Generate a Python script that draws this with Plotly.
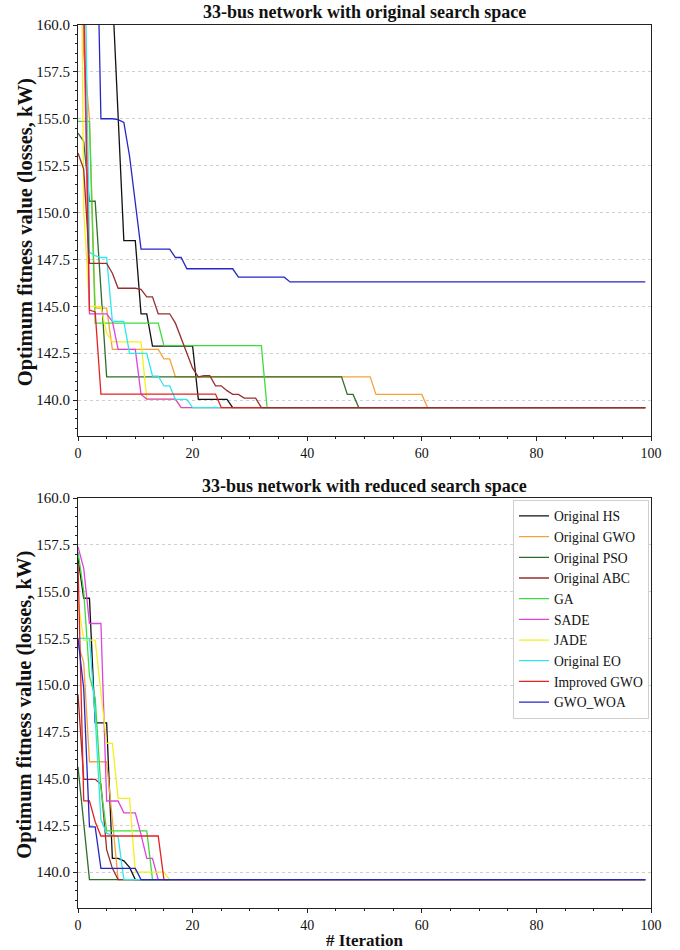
import plotly.graph_objects as go

N_ITER = 100
FINAL = 139.6
FINAL_WOA_TOP = 146.3

NAMES = ["Original HS", "Original GWO", "Original PSO", "Original ABC", "GA",
         "SADE", "JADE", "Original EO", "Improved GWO", "GWO_WOA"]
COLORS = ["#111111", "#f5a23a", "#2f6e2a", "#9a2e2e", "#3ddc3d",
          "#dc45dc", "#f2f020", "#2ee6f0", "#e52222", "#2626c8"]

# ---------- 33-bus network with original search space ----------
HS_TOP = [195, 190, 184, 178, 172, 168, 161.8, 155.2, 148.5, 148.5, 148.5, 144.6, 144.6,
          142.88, 142.88, 142.88, 142.88, 142.88, 142.88, 142.88, 142.88,
          140.04, 140.04, 140.04, 140.04, 140.04, 140.04]
GWO_TOP = ([172, 158.5, 155.0, 144.9, 144.9, 144.9] + [142.7] * 9 + [142.2] * 2
           + [141.24] * 35 + [140.3] * 9)
PSO_TOP = [154.24, 153.8, 150.6, 150.6, 145.9] + [141.24] * 42 + [140.3, 140.3]
ABC_TOP = [153.17, 152.3, 147.29, 147.29, 147.29, 147.29, 146.76, 145.96, 145.96, 145.96,
           145.96, 145.9, 145.5, 145.5, 144.6, 144.6, 144.6, 144.1, 143.3, 142.5,
           141.7, 141.24, 141.3, 141.3, 140.76, 140.76, 140.5, 140.3, 140.3, 140.1,
           140.1, 140.1]
GA_TOP = [154.86, 154.86, 154.86] + [144.1] * 12 + [142.9] * 18
SADE_TOP = [172, 160.5, 144.6, 144.6, 144.6, 144.6, 144.2, 142.7, 142.7, 142.7, 142.7,
            140.3] + [140.05] * 6
JADE_TOP = [185, 150.1, 145.0, 144.98, 144.98, 143.56, 143.1, 143.1, 143.1, 143.1, 143.1,
            143.1] + [140.05] * 6
EO_TOP = [180, 168, 147.88, 147.7, 147.6, 147.6, 144.2, 144.2, 144.2, 142.49, 142.49,
          142.49, 142.49, 141.28, 141.28, 140.75, 140.75, 140.04, 140.04, 140.04]
IGWO_TOP = [175, 162, 144.8, 144.7] + [140.32] * 21
WOA_TOP = ([185, 180, 175, 170, 155.0, 155.0, 155.0, 154.95, 154.8, 153.0, 150.5]
           + [148.05] * 6 + [147.6] * 2 + [147.0] * 9 + [146.55] * 9)

# ---------- 33-bus network with reduced search space ----------
HS_BOT = [156.8, 154.64, 154.64, 147.98, 147.98, 147.98, 140.73, 140.73, 140.6, 140.25]
GWO_BOT = [152.2, 151.2, 145.9, 145.9, 145.9, 145.9, 142.8]
PSO_BOT = [145.63, 142.6]
ABC_BOT = [149.5, 144.96, 144.96, 144.96, 144.7, 141.2, 140.2]
GA_BOT = [157.13, 155.0, 150.5, 149.3, 144.5] + [142.2] * 8
SADE_BOT = [157.4, 156.24, 153.29, 153.29, 153.29, 143.8, 143.8, 143.8, 143.17, 143.17,
            143.17, 142.0, 140.73, 140.73]
JADE_BOT = [154.5, 152.4, 152.4, 152.4, 149.6, 146.88, 146.88, 143.94, 143.94, 143.94] + [140.0] * 6
EO_BOT = [152.5, 152.5, 152.5, 148.3, 142.8, 142.07, 142.0, 141.9]
IGWO_BOT = [156.5, 143.81, 143.81, 142.69] + [141.93] * 11
WOA_BOT = [152.5, 149.8, 142.42, 142.42] + [140.2] * 7

TOP_SERIES = [HS_TOP, GWO_TOP, PSO_TOP, ABC_TOP, GA_TOP, SADE_TOP, JADE_TOP, EO_TOP, IGWO_TOP, WOA_TOP]
TOP_FINALS = [FINAL] * 9 + [FINAL_WOA_TOP]
BOT_SERIES = [HS_BOT, GWO_BOT, PSO_BOT, ABC_BOT, GA_BOT, SADE_BOT, JADE_BOT, EO_BOT, IGWO_BOT, WOA_BOT]

ITER = list(range(N_ITER))


def full(vals, final):
    return vals + [final] * (N_ITER - len(vals))


FONT = "Liberation Serif, Times New Roman, serif"
fig = go.Figure()

# drawing order for the upper panel (legend order kept via legendrank)
top_order = [0, 1, 2, 4, 6, 5, 7, 8, 9, 3]
for i in top_order:
    fig.add_trace(go.Scatter(x=ITER, y=full(TOP_SERIES[i], TOP_FINALS[i]), mode="lines",
                             name=NAMES[i], line=dict(color=COLORS[i], width=1.3),
                             xaxis="x", yaxis="y", showlegend=False))
for i in range(10):
    fig.add_trace(go.Scatter(x=ITER, y=full(BOT_SERIES[i], FINAL), mode="lines",
                             name=NAMES[i], line=dict(color=COLORS[i], width=1.3),
                             xaxis="x2", yaxis="y2", showlegend=True, legendrank=i + 1))

xcommon = dict(range=[0, 100], tick0=0, dtick=20, ticks="outside", ticklen=4, tickwidth=1,
               tickcolor="#222", showline=True, mirror=True, linecolor="#222", linewidth=1,
               showgrid=False, zeroline=False,
               tickfont=dict(family=FONT, size=14, color="#111"),
               minor=dict(dtick=5, ticks="outside", ticklen=2, tickcolor="#222", showgrid=False))
ycommon = dict(range=[138.08, 160.0], tick0=140, dtick=2.5, tickformat=".1f", ticks="outside",
               ticklen=4, tickwidth=1, tickcolor="#222", showline=True, mirror=True,
               linecolor="#222", linewidth=1, showgrid=True, gridcolor="#cfcfcf",
               griddash="dot", gridwidth=1, zeroline=False,
               tickfont=dict(family=FONT, size=15, color="#111"),
               minor=dict(tick0=140, dtick=0.5, ticks="outside", ticklen=2, tickcolor="#222",
                          showgrid=False))

TOP_DOM = [0.5345, 1.0]
BOT_DOM = [0.0, 0.4643]

fig.update_layout(
    width=680, height=950, autosize=False,
    margin=dict(l=78, r=29, t=25, b=42),
    paper_bgcolor="white", plot_bgcolor="white",
    xaxis=dict(domain=[0, 1], anchor="y", **xcommon),
    yaxis=dict(domain=TOP_DOM, anchor="x", **ycommon),
    xaxis2=dict(domain=[0, 1], anchor="y2", **xcommon),
    yaxis2=dict(domain=BOT_DOM, anchor="x2", **ycommon),
    legend=dict(x=0.9965, y=0.4625, xanchor="right", yanchor="top",
                bgcolor="white", bordercolor="#cfcfcf", borderwidth=1,
                font=dict(family=FONT, size=13.6, color="#111"),
                itemwidth=30, tracegroupgap=0),
    showlegend=True,
)

ann = []
ann.append(dict(text="<b>33-bus network with original search space</b>", x=0.5, y=1.0,
                xref="paper", yref="paper", xanchor="center", yanchor="bottom", yshift=1,
                showarrow=False, font=dict(family=FONT, size=18, color="#111")))
ann.append(dict(text="<b>33-bus network with reduced search space</b>", x=0.5, y=BOT_DOM[1],
                xref="paper", yref="paper", xanchor="center", yanchor="bottom", yshift=0,
                showarrow=False, font=dict(family=FONT, size=18, color="#111")))
for dom in (TOP_DOM, BOT_DOM):
    ann.append(dict(text="<b>Optimum fitness value (losses, kW)</b>", x=-0.0925,
                    y=(dom[0] + dom[1]) / 2 - 0.002, xref="paper", yref="paper",
                    xanchor="center", yanchor="middle", textangle=-90, showarrow=False,
                    font=dict(family=FONT, size=20.5, color="#111")))
ann.append(dict(text="<b># Iteration</b>", x=0.5, y=0, xref="paper", yref="paper",
                xanchor="center", yanchor="top", yshift=-21, showarrow=False,
                font=dict(family=FONT, size=17, color="#111")))
fig.update_layout(annotations=ann)

fig.write_html("out.html", config={"displayModeBar": False},
               post_script="document.body.style.margin='0';")
